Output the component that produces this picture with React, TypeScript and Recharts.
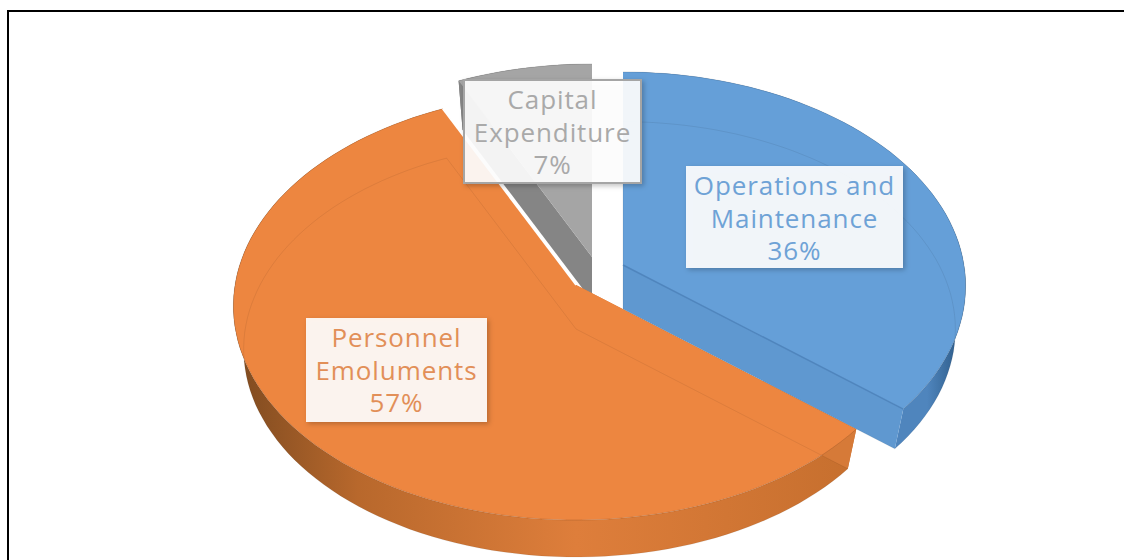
import { PieChart, Pie } from 'recharts';

// drawn back to front, counter-clockwise from 12 o'clock
const categories = ['Capital Expenditure', 'Personnel Emoluments', 'Operations and Maintenance'];
const shares = [7, 57, 36];
const colors = ['#a5a5a5', '#ed8640', '#659fd8'];
const textColors = ['#a9a9a9', '#e28f58', '#6ea2d6'];
const labelLines = [
  ['Capital', 'Expenditure'],
  ['Personnel', 'Emoluments'],
  ['Operations and', 'Maintenance'],
];

const chartData = categories.map((name, i) => ({ name, value: shares[i], fill: colors[i] }));

// 3D look of the exploded pie: where each slice's tip sits, and its side shades
const tips = [
  { x: 592, y: 257 },
  { x: 576, y: 285 },
  { x: 623, y: 265 },
];
const labelBoxes = [
  { x: 464, y: 80, w: 177, h: 103 },
  { x: 306, y: 318, w: 181, h: 104 },
  { x: 686, y: 166, w: 217, h: 102 },
];
const cutShades = ['#858585', '#d67a38', '#5f98d0'];
const wallStops = [
  ['#7a7a7a', '#7f7f7f', '#8f8f8f', '#7a7a7a'],
  ['#7d4a20', '#b8682c', '#de7e3b', '#c66f2e'],
  ['#4f85bd', '#4f85bd', '#4f85bd', '#27547f'],
];

const RX = 341;
const RY = 212;
const PERSPECTIVE = 0.098;
const DEPTH = 44;
const BOTTOM_SCALE = 0.97;
const RAD = Math.PI / 180;

const project = (tip: any, angle: number, bottom = false) => {
  const X = Math.cos(angle * RAD);
  const Z = Math.sin(angle * RAD);
  const d = 1 + PERSPECTIVE * Z;
  const s = bottom ? BOTTOM_SCALE : 1;
  return {
    x: tip.x + (RX * X * s) / d,
    y: tip.y - (RY * Z * s) / d + (bottom ? DEPTH : 0),
  };
};

const arc = (tip: any, from: number, to: number, bottom = false) => {
  const steps = Math.max(2, Math.ceil(Math.abs(to - from) / 2));
  const pts = [];
  for (let i = 0; i <= steps; i++) {
    pts.push(project(tip, from + ((to - from) * i) / steps, bottom));
  }
  return pts;
};

const toPath = (pts: any[], close = true) =>
  pts.map((p, i) => `${i ? 'L' : 'M'}${p.x.toFixed(1)},${p.y.toFixed(1)}`).join(' ') + (close ? ' Z' : '');

const Slice3D = (props: any) => {
  const i = categories.indexOf(props.name);
  const tip = tips[i];
  const { startAngle, endAngle, fill } = props;
  const topArc = arc(tip, startAngle, endAngle);
  const bottomArc = arc(tip, startAngle, endAngle, true);
  const tipLow = { x: tip.x, y: tip.y + DEPTH };
  const gid = `wall-${i}`;
  const cut = (angle: number) => [tip, project(tip, angle), project(tip, angle, true), tipLow];
  const xs = topArc.map((p) => p.x);
  return (
    <g>
      <defs>
        <linearGradient
          id={gid}
          gradientUnits="userSpaceOnUse"
          x1={i === 2 ? 880 : Math.min(...xs)}
          x2={Math.max(...xs)}
          y1="0"
          y2="0"
        >
          <stop offset="0" stopColor={wallStops[i][0]} />
          <stop offset="0.2" stopColor={wallStops[i][1]} />
          <stop offset="0.55" stopColor={wallStops[i][2]} />
          <stop offset="1" stopColor={wallStops[i][3]} />
        </linearGradient>
      </defs>
      <path d={toPath([...topArc, ...[...bottomArc].reverse()])} fill={`url(#${gid})`} />
      <path d={toPath(cut(startAngle))} fill={cutShades[i]} />
      <path d={toPath(cut(endAngle))} fill={cutShades[i]} />
      <path d={toPath([tip, ...topArc])} fill={fill} />
      {/* the far side shows faintly through the top */}
      <path
        d={toPath([tipLow, ...bottomArc])}
        fill="none"
        stroke="#000"
        strokeOpacity={i === 0 ? 0 : 0.07}
      />
      <path d={toPath(topArc, false)} fill="none" stroke="#000" strokeOpacity={0.12} />
      {i === 1 && (
        <path
          d={toPath([tip, project(tip, startAngle)], false)}
          stroke="#fff"
          strokeWidth={1.5}
          fill="none"
        />
      )}
      {i === 2 && (
        <path
          d={toPath([tip, project(tip, startAngle)], false)}
          stroke="#4f85bd"
          strokeWidth={1.5}
          fill="none"
        />
      )}
    </g>
  );
};

const renderLabel = (props: any) => {
  const i = categories.indexOf(props.name);
  const box = labelBoxes[i];
  const lines = [...labelLines[i], `${props.value}%`];
  return (
    <g key={props.name}>
      <rect
        x={box.x}
        y={box.y}
        width={box.w}
        height={box.h}
        fill="#fff"
        fillOpacity={0.9}
        stroke={i === 0 ? '#a5a5a5' : 'none'}
        strokeWidth={i === 0 ? 2 : 0}
        filter="url(#boxShadow)"
      />
      <text
        x={box.x + box.w / 2}
        textAnchor="middle"
        fontFamily="'Open Sans', sans-serif"
        fontSize={26}
        letterSpacing={0.9}
        fill={textColors[i]}
      >
        {lines.map((line, n) => (
          <tspan key={n} x={box.x + box.w / 2} y={box.y + 29 + n * 32.5}>
            {line}
          </tspan>
        ))}
      </text>
    </g>
  );
};

export default function App() {
  return (
    <div style={{ position: 'fixed', left: 0, top: 0, width: 1124, height: 560, overflow: 'hidden', background: '#fff' }}>
      <div
        style={{
          position: 'absolute',
          left: 7,
          top: 10,
          right: 0,
          bottom: 0,
          borderLeft: '2px solid #000',
          borderTop: '2px solid #000',
        }}
      />
      <div style={{ position: 'absolute', left: 0, top: 0 }}>
        <PieChart width={1124} height={560} margin={{ top: 0, right: 0, bottom: 0, left: 0 }}>
          <defs>
            <filter id="boxShadow" x="-10%" y="-10%" width="120%" height="120%">
              <feDropShadow dx="2" dy="2" stdDeviation="2.5" floodColor="#000" floodOpacity="0.25" />
            </filter>
          </defs>
          <Pie
            data={chartData}
            dataKey="value"
            nameKey="name"
            cx={576}
            cy={285}
            outerRadius={343}
            startAngle={90}
            endAngle={450}
            paddingAngle={0}
            stroke="none"
            isAnimationActive={false}
            shape={Slice3D}
            activeShape={Slice3D}
            inactiveShape={Slice3D}
            label={renderLabel}
            labelLine={false}
          />
        </PieChart>
      </div>
    </div>
  );
}
